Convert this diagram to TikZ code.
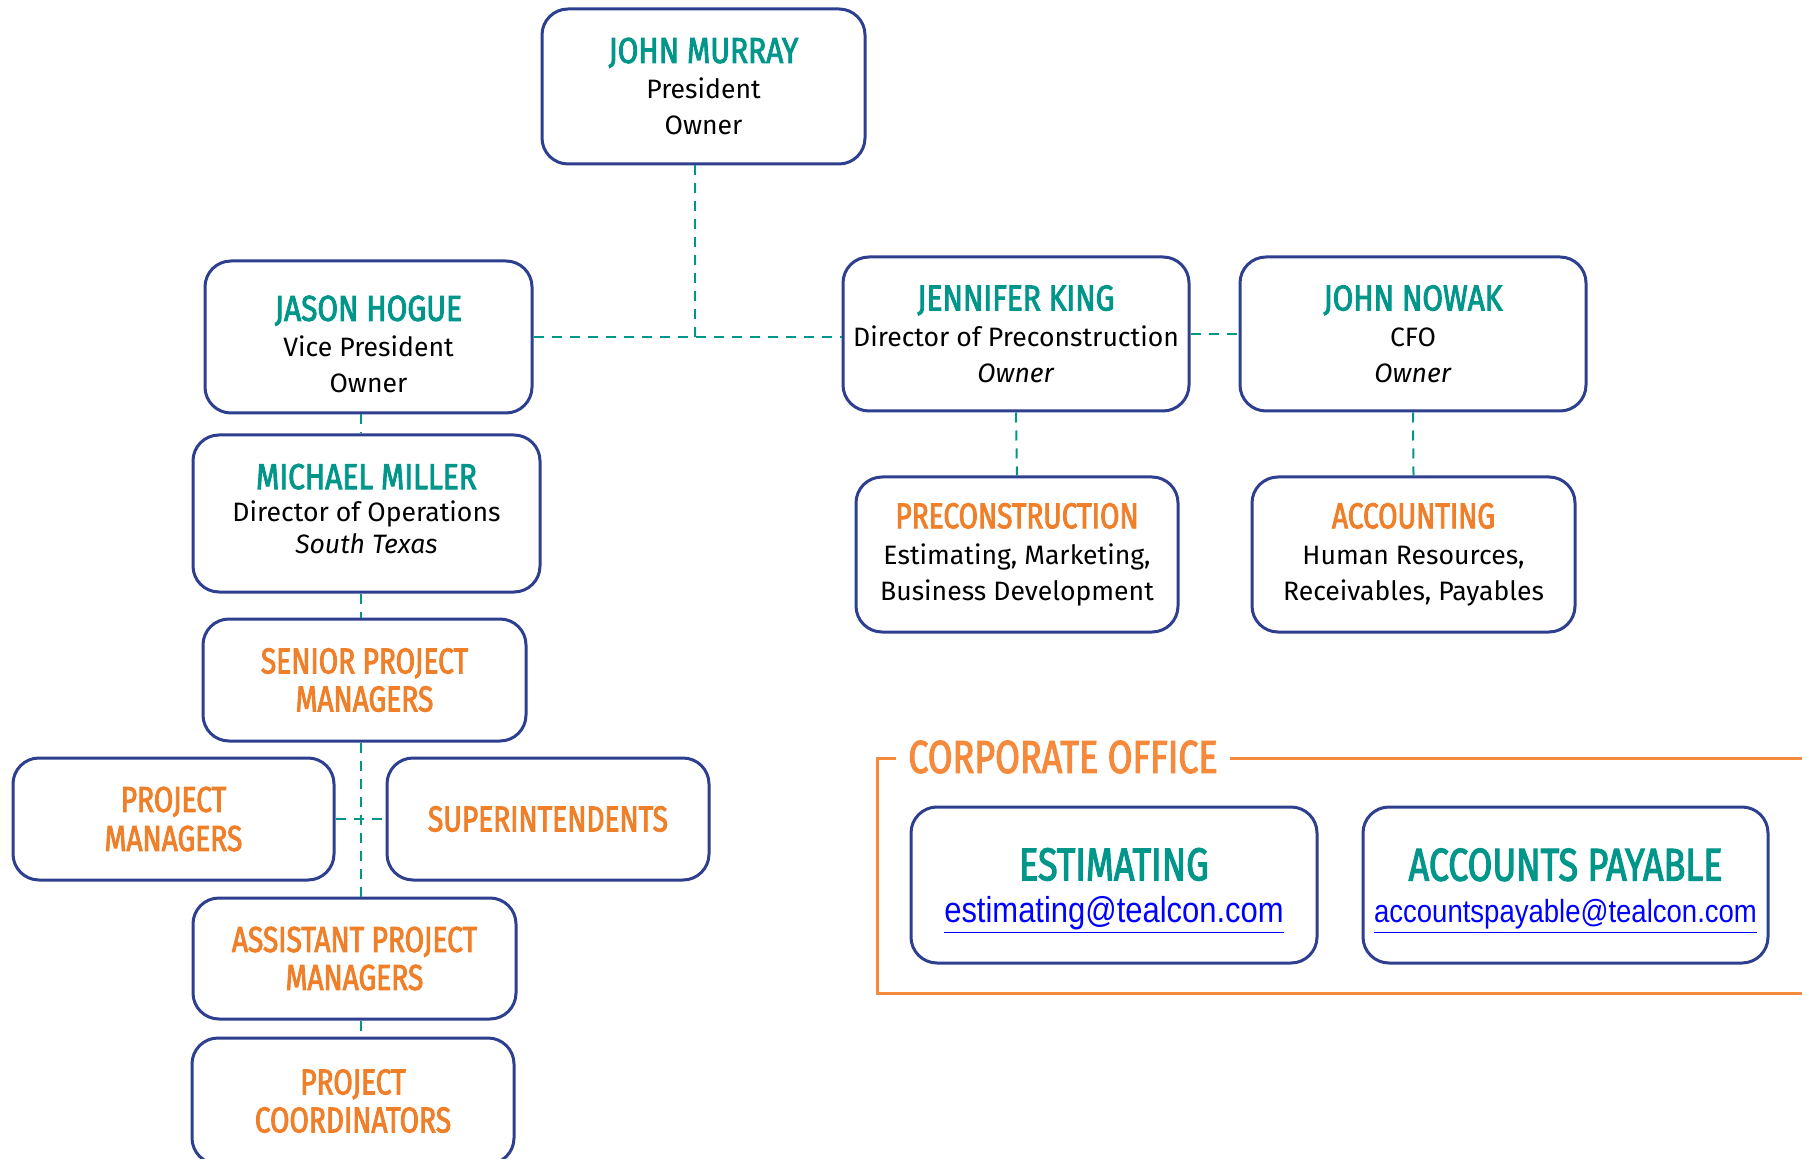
\documentclass[tikz,border=0pt]{standalone}
\usepackage{fontspec}
\setmainfont{Fira Sans}
\newfontfamily\namefont[FakeStretch=0.83,FakeBold=2.4]{Fira Sans}
\newfontfamily\headfont[FakeStretch=0.78,FakeBold=2.4]{Fira Sans}
\newfontfamily\mailfont[FakeStretch=0.86]{Liberation Sans}
\usepackage{tikz}

\definecolor{boxblue}{HTML}{2E3F8F}
\definecolor{tealname}{HTML}{00968A}
\definecolor{orangehead}{HTML}{F07F2A}
\definecolor{frameorange}{HTML}{F58A3C}
\definecolor{linkblue}{HTML}{0000FF}

\tikzset{
  card/.style = {draw = boxblue, line width = 1.5pt, rounded corners = 13pt, fill = white,
    align = center, inner sep = 0pt, font = \fontsize{13.3}{18}\selectfont},
  boxsize/.style 2 args = {minimum width = #1*0.5pt, minimum height = #2*0.5pt},
  link/.style = {draw = tealname, line width = 1pt, dash pattern = on 5pt off 4pt},
}
\newcommand{\nameline}[1]{{\namefont\fontsize{18}{18}\selectfont\color{tealname}#1}}
\newcommand{\deptline}[1]{{\headfont\fontsize{18}{18}\selectfont\color{orangehead}#1}}
\newcommand{\bigname}[1]{{\headfont\fontsize{23}{23}\selectfont\color{tealname}#1}}
\newcommand{\mailline}[2]{{\mailfont\fontsize{#1}{#1}\selectfont\color{linkblue}\underline{#2}}}

\begin{document}
\begin{tikzpicture}[x = 0.5pt, y = -0.5pt]
    \useasboundingbox (0,0) rectangle (1802,1159);

    \node[card, boxsize = {323}{155}] (murray) at (703.5,86.5) {\nameline{JOHN MURRAY}\\President\\Owner};
    \node[card, boxsize = {327}{152}] (hogue) at (368.5,337) {\nameline{\rule{0pt}{20pt}JASON HOGUE}\\Vice President\\Owner};
    \node[card, boxsize = {346}{154}] (king) at (1016,334) {\nameline{JENNIFER KING}\\Director of Preconstruction\\\textit{Owner}};
    \node[card, boxsize = {346}{154}] (nowak) at (1413,334) {\nameline{JOHN NOWAK}\\CFO\\\textit{Owner}};
    \node[card, boxsize = {347}{157}, font = \fontsize{13.3}{16}\selectfont] (miller) at (366.5,513.5) {\nameline{MICHAEL MILLER}\\Director of Operations\\\textit{South Texas}\rule[-5pt]{0pt}{5pt}};
    \node[card, boxsize = {322}{155}] (precon) at (1017,554.5) {\deptline{PRECONSTRUCTION}\\Estimating, Marketing,\\Business Development};
    \node[card, boxsize = {323}{155}] (acct) at (1413.5,554.5) {\deptline{ACCOUNTING}\\Human Resources,\\Receivables, Payables};
    \node[card, boxsize = {323}{122}, font = \fontsize{13.3}{19}\selectfont] (senior) at (364.5,680) {\deptline{SENIOR PROJECT}\\\deptline{MANAGERS}};
    \node[card, boxsize = {321}{122}, font = \fontsize{13.3}{19.5}\selectfont] (pm) at (173.5,819) {\deptline{PROJECT}\\\deptline{MANAGERS}};
    \node[card, boxsize = {322}{122}] (supt) at (548,819) {\deptline{SUPERINTENDENTS}};
    \node[card, boxsize = {323}{121}, font = \fontsize{13.3}{19}\selectfont] (asst) at (354.5,958.5) {\deptline{ASSISTANT PROJECT}\\\deptline{MANAGERS}};
    \node[card, boxsize = {322}{126}, font = \fontsize{13.3}{19}\selectfont] (coord) at (353,1101) {\deptline{PROJECT}\\\deptline{COORDINATORS}};

    % dashed links
    \coordinate (spine) at (361,0);
    \coordinate (drop) at ([xshift = -4.5pt]murray.south);
    \draw[link] (drop) -- (drop |- hogue.east);
    \draw[link] (hogue.east) -- (hogue.east -| king.west);
    \draw[link] (king.east) -- (nowak.west);
    \draw[link] (king.south) -- (precon.north);
    \draw[link] (nowak.south) -- (acct.north);
    \draw[link] (hogue.south -| spine) -- (miller.north -| spine);
    \draw[link] (miller.south -| spine) -- (senior.north -| spine);
    \draw[link] (senior.south -| spine) -- (asst.north -| spine);
    \draw[link] (asst.south -| spine) -- (coord.north -| spine);
    \draw[link] (pm.east) -- (supt.west);

    % corporate office
    \draw[line width = 1.5pt, frameorange] (877,758) rectangle (1812,993);
    \node[fill = white, inner xsep = 6pt, inner ysep = 2pt, text = frameorange,
      font = \headfont\fontsize{23}{23}\selectfont] (corp) at (1063,757) {CORPORATE OFFICE};
    \node[card, boxsize = {406}{156}, font = \fontsize{12}{21}\selectfont] (est) at (1114,885)
      {\bigname{\rule{0pt}{22pt}ESTIMATING}\\\mailline{18}{estimating@tealcon.com}};
    \node[card, boxsize = {405}{156}, font = \fontsize{12}{21}\selectfont] (pay) at (1565.5,885)
      {\bigname{\rule{0pt}{22pt}ACCOUNTS PAYABLE}\\\mailline{16}{accountspayable@tealcon.com}};
\end{tikzpicture}
\end{document}
